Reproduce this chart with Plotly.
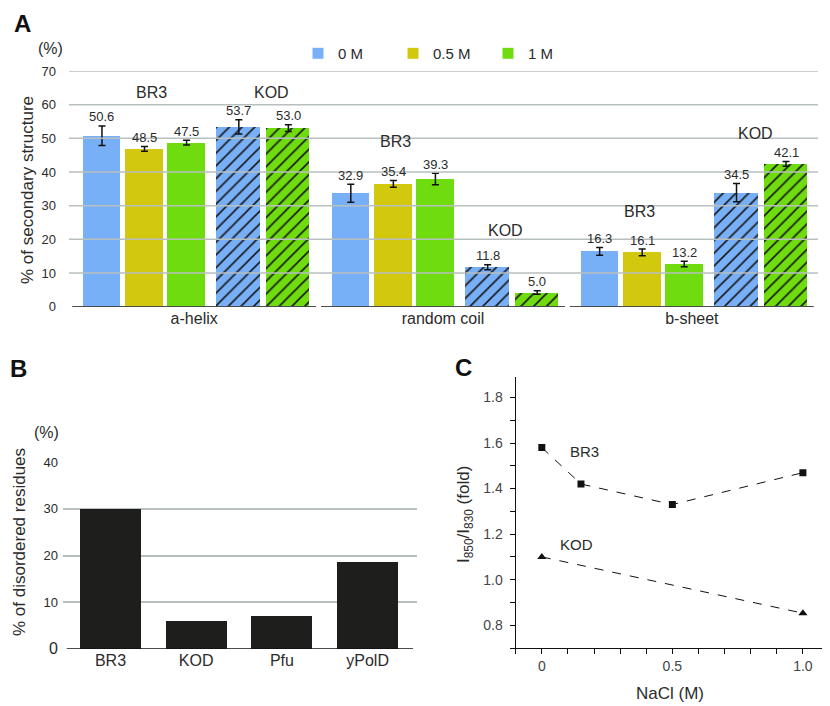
import plotly.graph_objects as go

W, H = 830, 706
PAGE_OFFSET = 8  # the page body margin shifts the figure by this many pixels

# ---------------- Panel A data ----------------
structures = ["a-helix", "random coil", "b-sheet"]
series_names = ["0 M", "0.5 M", "1 M", "0 M", "1 M"]
series_groups = ["BR3", "BR3", "BR3", "KOD", "KOD"]
br3_0m = [50.8, 33.7, 16.4]
br3_05m = [46.9, 36.5, 16.1]
br3_1m = [48.7, 37.9, 12.7]
kod_0m = [53.4, 11.7, 33.9]
kod_1m = [53.0, 4.2, 42.4]
err_br3_0m = [2.9, 2.7, 1.15]
err_br3_05m = [0.7, 1.0, 1.0]
err_br3_1m = [0.7, 1.7, 0.8]
err_kod_0m = [2.1, 0.75, 2.7]
err_kod_1m = [1.0, 0.5, 0.7]
lbl_br3_0m = ["50.6", "32.9", "16.3"]
lbl_br3_05m = ["48.5", "35.4", "16.1"]
lbl_br3_1m = ["47.5", "39.3", "13.2"]
lbl_kod_0m = ["53.7", "11.8", "34.5"]
lbl_kod_1m = ["53.0", "5.0", "42.1"]
a_ticks = [0, 10, 20, 30, 40, 50, 60, 70]

# ---------------- Panel B data ----------------
proteins = ["BR3", "KOD", "Pfu", "yPolD"]
disordered = [30.0, 5.9, 7.0, 18.7]
b_ticks = [0, 10, 20, 30, 40]

# ---------------- Panel C data ----------------
nacl_br3 = [0, 0.15, 0.5, 1.0]
ratio_br3 = [1.58, 1.42, 1.33, 1.47]
nacl_kod = [0, 1.0]
ratio_kod = [1.10, 0.853]
c_yticks = [0.8, 1.0, 1.2, 1.4, 1.6, 1.8]
c_xticks = [0, 0.5, 1.0]
c_xticktext = ["0", "0.5", "1.0"]

# ---------------- styling ----------------
FONT = "Liberation Sans, Arial, sans-serif"
TXT = "#2b2b2b"
GRID = "#b7bfbf"
colors = ["#78b0f8", "#d2c80e", "#6edc0e", "#78b0f8", "#6edc0e"]
hatched = [False, False, False, True, True]
offsets = [-0.447, -0.278, -0.109, 0.089, 0.290]
widths = [0.153, 0.157, 0.157, 0.181, 0.177]

def px(x):
    return (x - PAGE_OFFSET) / W

def py(y):
    return 1 - (y - PAGE_OFFSET) / H

values = [br3_0m, br3_05m, br3_1m, kod_0m, kod_1m]
errors = [err_br3_0m, err_br3_05m, err_br3_1m, err_kod_0m, err_kod_1m]
labels = [lbl_br3_0m, lbl_br3_05m, lbl_br3_1m, lbl_kod_0m, lbl_kod_1m]

fig = go.Figure()
annotations = []
shapes = []

for k in range(5):
    marker = dict(color=colors[k], line=dict(color="white", width=1))
    if hatched[k]:
        marker["pattern"] = dict(shape="/", size=9, solidity=0.18,
                                 fgcolor="#1a1a1a", bgcolor=colors[k],
                                 fillmode="replace")
    fig.add_trace(go.Bar(
        x=structures, y=values[k], name=series_names[k],
        showlegend=(series_groups[k] == "BR3"),
        legendgroup=series_names[k],
        width=[widths[k]] * len(structures),
        offset=[offsets[k]] * len(structures),
        marker=marker,
        error_y=dict(type="data", array=errors[k], visible=True,
                     color="#111111", thickness=1.5, width=3.5),
        xaxis="x", yaxis="y",
    ))
    for i in range(len(structures)):
        annotations.append(dict(
            x=i + offsets[k] + widths[k] / 2, y=values[k][i] + errors[k][i],
            xref="x", yref="y", text=labels[k][i], showarrow=False,
            yanchor="middle", yshift=9, font=dict(size=13, color=TXT, family=FONT)))

# group labels (BR3 / KOD) above each cluster
grp_br3_x = [-0.17, -0.19, -0.21]
grp_br3_y = [63.6, 49.0, 28.3]
grp_kod_x = [0.31, 0.25, 0.254]
grp_kod_y = [63.6, 22.5, 51.4]
for i in range(len(structures)):
    annotations.append(dict(x=i + grp_br3_x[i], y=grp_br3_y[i], xref="x", yref="y",
                            text="BR3", showarrow=False,
                            font=dict(size=16, color=TXT, family=FONT)))
    annotations.append(dict(x=i + grp_kod_x[i], y=grp_kod_y[i], xref="x", yref="y",
                            text="KOD", showarrow=False,
                            font=dict(size=16, color=TXT, family=FONT)))
    shapes.append(dict(type="line", xref="x", yref="y", x0=i - 0.49, x1=i + 0.49,
                       y0=0, y1=0, line=dict(color="#111111", width=1.5), layer="above"))

# gridlines drawn over the bars in panel A
for v in a_ticks[1:]:
    shapes.append(dict(type="line", xref="x domain", yref="y", x0=0, x1=1, y0=v, y1=v,
                       line=dict(color=GRID, width=1.5), layer="above"))

# ---------------- Panel B ----------------
fig.add_trace(go.Bar(x=proteins, y=disordered, width=0.71, showlegend=False,
                     marker=dict(color="#1e1e1c", line=dict(width=0)),
                     xaxis="x2", yaxis="y2"))
shapes.append(dict(type="line", xref="x2", yref="y2", x0=-0.51, x1=3.53, y0=0, y1=0,
                   line=dict(color="#111111", width=1.5), layer="above"))

# ---------------- Panel C ----------------
fig.add_trace(go.Scatter(x=nacl_br3, y=ratio_br3, mode="lines+markers", showlegend=False,
                         line=dict(color="#111111", width=1, dash="dash"),
                         marker=dict(symbol="square", size=7, color="#111111"),
                         xaxis="x3", yaxis="y3"))
fig.add_trace(go.Scatter(x=nacl_kod, y=ratio_kod, mode="lines+markers", showlegend=False,
                         line=dict(color="#111111", width=1, dash="dash"),
                         marker=dict(symbol="triangle-up", size=8, color="#111111"),
                         xaxis="x3", yaxis="y3"))
annotations.append(dict(x=0.165, y=1.565, xref="x3", yref="y3", text="BR3", showarrow=False,
                        font=dict(size=15, color=TXT, family=FONT)))
annotations.append(dict(x=0.133, y=1.156, xref="x3", yref="y3", text="KOD", showarrow=False,
                        font=dict(size=15, color=TXT, family=FONT)))

# ---------------- text in paper coordinates ----------------
def ptext(x, y, text, size, angle=0, bold=False, xanchor="center", yanchor="middle"):
    annotations.append(dict(x=px(x), y=py(y), xref="paper", yref="paper", text=text,
                            showarrow=False, textangle=angle, xanchor=xanchor,
                            yanchor=yanchor,
                            font=dict(size=size, color="#111111" if bold else TXT,
                                      family=FONT, weight="bold" if bold else "normal")))

ptext(12, 8, "A", 24, bold=True, xanchor="left", yanchor="top")
ptext(8, 368, "B", 24, bold=True, xanchor="left")
ptext(463, 367, "C", 24, bold=True)
ptext(50, 48, "(%)", 16)
ptext(46, 432, "(%)", 16)
ptext(27, 190, "% of secondary structure", 17, angle=-90)
ptext(19, 542, "% of disordered residues", 17, angle=-90)
ptext(465, 515, "I<sub>850</sub>/I<sub>830</sub> (fold)", 17, angle=-90)
ptext(670, 693, "NaCl (M)", 17)

b_ticktext = ["<span style='font-size:16px'>0</span>"] + [str(v) for v in b_ticks[1:]]

fig.update_layout(
    width=W, height=H, autosize=False,
    margin=dict(l=0, r=0, t=0, b=0, autoexpand=False),
    paper_bgcolor="white", plot_bgcolor="white",
    font=dict(family=FONT, color=TXT),
    bargap=0, barmode="overlay",
    showlegend=True,
    legend=dict(orientation="h", x=px(298), y=py(37), xanchor="left", yanchor="top",
                font=dict(size=15, color=TXT, family=FONT),
                entrywidth=50, entrywidthmode="pixels",
                bgcolor="rgba(0,0,0,0)"),
    xaxis=dict(domain=[px(69), px(818)], type="category", range=[-0.503, 2.507],
               showgrid=False, zeroline=False, showline=False, ticks="", automargin=False,
               tickfont=dict(size=16, color=TXT), anchor="y"),
    yaxis=dict(domain=[py(306.7), py(71)], range=[0, 70], tickvals=a_ticks,
               showgrid=False, zeroline=False, showline=False, ticks="", automargin=False,
               ticklabelstandoff=12, tickfont=dict(size=13, color=TXT), anchor="x"),
    xaxis2=dict(domain=[px(63), px(417)], type="category", range=[-0.554, 3.576],
                showgrid=False, zeroline=False, showline=False, ticks="", automargin=False,
                tickfont=dict(size=16, color=TXT), anchor="y2"),
    yaxis2=dict(domain=[py(649), py(462)], range=[0, 40], tickvals=b_ticks,
                ticktext=b_ticktext, showgrid=True, gridcolor=GRID, gridwidth=1.5,
                zeroline=False, showline=False, ticks="", ticklabelstandoff=4,
                automargin=False,
                tickfont=dict(size=13, color=TXT), anchor="x2"),
    xaxis3=dict(domain=[px(515.7), px(829)], range=[-0.1, 1.1], tickvals=c_xticks,
                ticktext=c_xticktext, showgrid=False, zeroline=False, showline=True,
                linecolor="#111111", linewidth=1.2, ticks="outside", ticklen=5,
                tickcolor="#111111", tickwidth=1, automargin=False,
                minor=dict(ticks="outside", dtick=0.1, tick0=0, ticklen=5,
                           tickcolor="#111111", tickwidth=1),
                tickfont=dict(size=14, color="#444444"), anchor="y3"),
    yaxis3=dict(domain=[py(648), py(377)], range=[0.7, 1.89], tickvals=c_yticks,
                tickformat=".1f", showgrid=False, zeroline=False, showline=True,
                linecolor="#111111", linewidth=1.2, ticks="outside", ticklen=5,
                tickcolor="#111111", tickwidth=1, automargin=False,
                minor=dict(ticks="outside", dtick=0.1, tick0=0, ticklen=5,
                           tickcolor="#111111", tickwidth=1),
                ticklabelstandoff=4,
                tickfont=dict(size=14, color="#444444"), anchor="x3"),
    annotations=annotations,
    shapes=shapes,
)

fig.write_html("out.html")
